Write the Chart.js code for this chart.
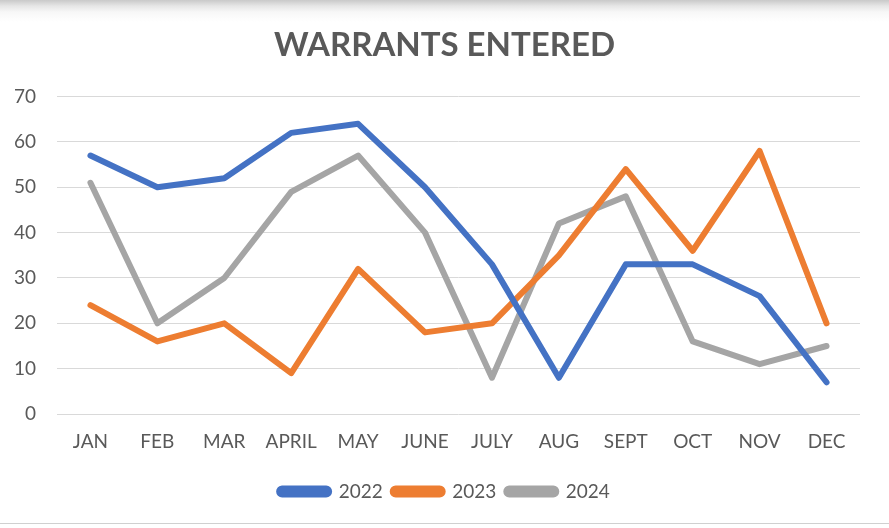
<!DOCTYPE html>
<html>
<head>
<meta charset="utf-8">
<script src="https://cdn.jsdelivr.net/npm/chart.js@4.4.1/dist/chart.umd.min.js"></script>
<style>
  html, body { margin: 0; padding: 0; background: #ffffff; }
  #wrap { position: relative; width: 889px; height: 528px; overflow: hidden;
    background: linear-gradient(to bottom, #c9c9c9 0px, #e6e6e6 6px, #f7f7f7 12px, #ffffff 22px); }
  #wrap:after { content: ""; position: absolute; left: 0; right: 0; top: 523px; height: 1px; background: #d0d0d0; }
  canvas { position: absolute; left: 0; top: 0; }
</style>
</head>
<body>
<div id="wrap"><canvas id="c" width="889" height="528"></canvas></div>
<script>
const months = ["JAN","FEB","MAR","APRIL","MAY","JUNE","JULY","AUG","SEPT","OCT","NOV","DEC"];
const series2022 = [57, 50, 52, 62, 64, 50, 33, 8, 33, 33, 26, 7];
const series2023 = [24, 16, 20, 9, 32, 18, 20, 35, 54, 36, 58, 20];
const series2024 = [51, 20, 30, 49, 57, 40, 8, 42, 48, 16, 11, 15];
const seriesNames = ["2022", "2023", "2024"];
const yTicks = [0, 10, 20, 30, 40, 50, 60, 70];
const titleText = "WARRANTS ENTERED";

const FONT = "Lato, 'Liberation Sans', sans-serif";
const colors = ["#4472C4", "#ED7D31", "#A5A5A5"];
const allSeries = [series2022, series2023, series2024];

const datasets = allSeries.map((d, i) => ({
  label: seriesNames[i],
  data: d,
  borderColor: colors[i],
  backgroundColor: colors[i],
  borderWidth: 6,
  pointRadius: 0,
  pointHoverRadius: 0,
  tension: 0,
  fill: false,
  borderCapStyle: 'round',
  borderJoinStyle: 'round'
}));

new Chart(document.getElementById('c'), {
  type: 'line',
  data: { labels: months, datasets },
  options: {
    responsive: false,
    animation: false,
    devicePixelRatio: 1,
    layout: { padding: { top: 0, left: 0, right: 0, bottom: 17 } },
    plugins: {
      title: {
        display: true,
        text: titleText,
        color: '#595959',
        font: { family: FONT, size: 33, weight: 'bold' },
        padding: { top: 26, bottom: 31 }
      },
      legend: {
        position: 'bottom',
        labels: {
          color: '#595959',
          font: { family: FONT, size: 19 },
          boxWidth: 50,
          boxHeight: 6,
          useBorderRadius: true,
          borderRadius: 3,
          padding: 10
        }
      },
      tooltip: { enabled: false }
    },
    scales: {
      x: {
        offset: true,
        grid: { display: false, drawTicks: false },
        border: { display: false },
        ticks: { color: '#595959', font: { family: FONT, size: 19 }, padding: 16, maxRotation: 0, autoSkip: false },
        afterFit: (axis) => { axis.height = 58; }
      },
      y: {
        min: 0,
        max: 70,
        afterBuildTicks: (axis) => { axis.ticks = yTicks.map(v => ({ value: v })); },
        grid: { color: '#d9d9d9', lineWidth: 1, drawTicks: false },
        border: { display: false },
        ticks: { color: '#595959', font: { family: FONT, size: 19 }, padding: 21 },
        afterFit: (axis) => { axis.width = 57; }
      },
      yRight: {
        position: 'right',
        min: 0,
        max: 70,
        grid: { display: false, drawTicks: false },
        border: { display: false },
        ticks: { display: false },
        afterFit: (axis) => { axis.width = 29; }
      }
    }
  }
});
</script>
</body>
</html>
